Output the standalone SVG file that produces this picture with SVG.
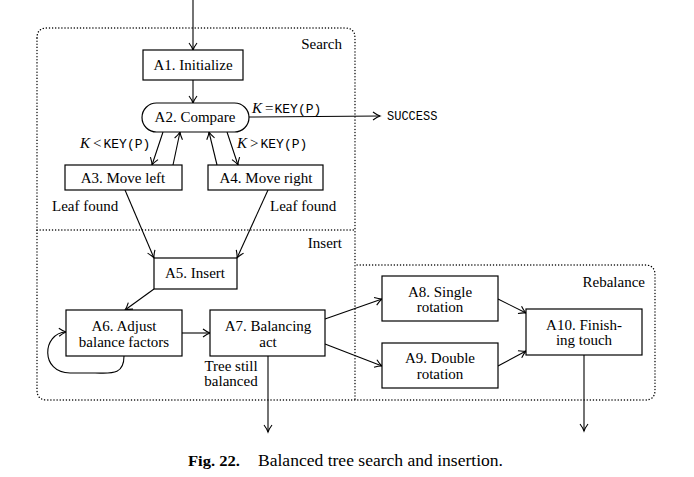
<svg xmlns="http://www.w3.org/2000/svg" width="694" height="477" viewBox="0 0 694 477">
<style>
.bg{fill:#fff}
.box{fill:#fff;stroke:#000;stroke-width:1.2}
.region{fill:none;stroke:#000;stroke-width:1.4;stroke-dasharray:0.1 3;stroke-linecap:round}
.edge{fill:none;stroke:#000;stroke-width:1.1}
.t{font-family:"Liberation Serif","DejaVu Serif",serif;font-size:15px;fill:#000}
.c{text-anchor:middle}
.r{text-anchor:end}
.tt{font-family:"Liberation Mono","DejaVu Sans Mono",monospace;font-size:13px}
.it{font-style:italic}
</style>
<defs>
<marker id="ah" markerUnits="userSpaceOnUse" markerWidth="10" markerHeight="10" viewBox="0 0 10 10" refX="8" refY="5" orient="auto">
<path d="M1,1 Q5,4 8,5 Q5,6 1,9" fill="none" stroke="#000" stroke-width="1.1"/>
</marker>
</defs>
<rect class="bg" x="0" y="0" width="694" height="477"/>

<g id="regions">
<path class="region" d="M37,38 Q37,28 47,28 L345,28 Q355,28 355,38 L355,400"/>
<path class="region" d="M37,38 L37,390 Q37,400 47,400 L645,400 Q655,400 655,390 L655,275 Q655,265 645,265 L355,265"/>
<path class="region" d="M37,230 L355,230"/>
<text class="t r" x="342" y="49">Search</text>
<text class="t r" x="342" y="248">Insert</text>
<text class="t r" x="645" y="287">Rebalance</text>
</g>

<g id="connectors">
<path class="edge" d="M193,0 L193,50" marker-end="url(#ah)"/>
<path class="edge" d="M193,80 L193,103" marker-end="url(#ah)"/>
<path class="edge" d="M249,117 L380,116" marker-end="url(#ah)"/>
<path class="edge" d="M163,132 L152,165" marker-end="url(#ah)"/>
<path class="edge" d="M173,165 L180,132" marker-end="url(#ah)"/>
<path class="edge" d="M217,165 L209,132" marker-end="url(#ah)"/>
<path class="edge" d="M227,132 L238,165" marker-end="url(#ah)"/>
<path class="edge" d="M125,190 L154,258" marker-end="url(#ah)"/>
<path class="edge" d="M268,190 L237,258" marker-end="url(#ah)"/>
<path class="edge" d="M154,289 L125,310" marker-end="url(#ah)"/>
<path class="edge" d="M182,333 L210,333" marker-end="url(#ah)"/>
<path class="edge" d="M124,356 C124,376 110,373 95,373 L70,373 C40,373 42,333 66,332" marker-end="url(#ah)"/>
<path class="edge" d="M268,356 L268,432" marker-end="url(#ah)"/>
<path class="edge" d="M325,319 L382,299" marker-end="url(#ah)"/>
<path class="edge" d="M325,344 L382,366" marker-end="url(#ah)"/>
<path class="edge" d="M498,299 L526,313" marker-end="url(#ah)"/>
<path class="edge" d="M498,366 L526,351" marker-end="url(#ah)"/>
<path class="edge" d="M584,355 L584,431" marker-end="url(#ah)"/>
<text class="t" x="252" y="113"><tspan class="it">K</tspan><tspan dx="3">=</tspan><tspan class="tt" dx="1">KEY(P)</tspan></text>
<text class="t tt" x="387" y="120" style="font-size:12px">SUCCESS</text>
<text class="t" x="80" y="148"><tspan class="it">K</tspan><tspan dx="3">&lt;</tspan><tspan class="tt" dx="2">KEY(P)</tspan></text>
<text class="t" x="237" y="148"><tspan class="it">K</tspan><tspan dx="3">&gt;</tspan><tspan class="tt" dx="2">KEY(P)</tspan></text>
<text class="t" x="52" y="211">Leaf found</text>
<text class="t" x="270" y="211">Leaf found</text>
<text class="t c" x="231" y="371">Tree still</text>
<text class="t c" x="231" y="386">balanced</text>
</g>

<g id="A1">
<rect class="box" x="143" y="50" width="100" height="30"/>
<text class="t c" x="193" y="70">A1. Initialize</text>
</g>
<g id="A2">
<rect class="box" x="142" y="103" width="107" height="29" rx="14.5" ry="14.5"/>
<text class="t c" x="195" y="122">A2. Compare</text>
</g>
<g id="A3">
<rect class="box" x="65" y="165" width="117" height="25"/>
<text class="t c" x="123" y="183">A3. Move left</text>
</g>
<g id="A4">
<rect class="box" x="208" y="165" width="115" height="25"/>
<text class="t c" x="266" y="183">A4. Move right</text>
</g>
<g id="A5">
<rect class="box" x="154" y="258" width="83" height="31"/>
<text class="t c" x="195" y="278">A5. Insert</text>
</g>
<g id="A6">
<rect class="box" x="66" y="310" width="116" height="46"/>
<text class="t c" x="124" y="331">A6. Adjust</text>
<text class="t c" x="124" y="347">balance factors</text>
</g>
<g id="A7">
<rect class="box" x="210" y="310" width="115" height="46"/>
<text class="t c" x="268" y="331">A7. Balancing</text>
<text class="t c" x="268" y="347">act</text>
</g>
<g id="A8">
<rect class="box" x="382" y="276" width="116" height="45"/>
<text class="t c" x="440" y="297">A8. Single</text>
<text class="t c" x="440" y="312">rotation</text>
</g>
<g id="A9">
<rect class="box" x="382" y="343" width="116" height="45"/>
<text class="t c" x="440" y="363">A9. Double</text>
<text class="t c" x="440" y="379">rotation</text>
</g>
<g id="A10">
<rect class="box" x="526" y="309" width="116" height="46"/>
<text class="t c" x="584" y="330">A10. Finish-</text>
<text class="t c" x="584" y="345">ing touch</text>
</g>

<g id="caption">
<text class="t" x="188" y="466" style="font-size:15.5px;font-weight:bold" textLength="52" lengthAdjust="spacingAndGlyphs">Fig. 22.</text>
<text class="t" x="258" y="466" style="font-size:16px" textLength="245" lengthAdjust="spacingAndGlyphs">Balanced tree search and insertion.</text>
</g>
</svg>
